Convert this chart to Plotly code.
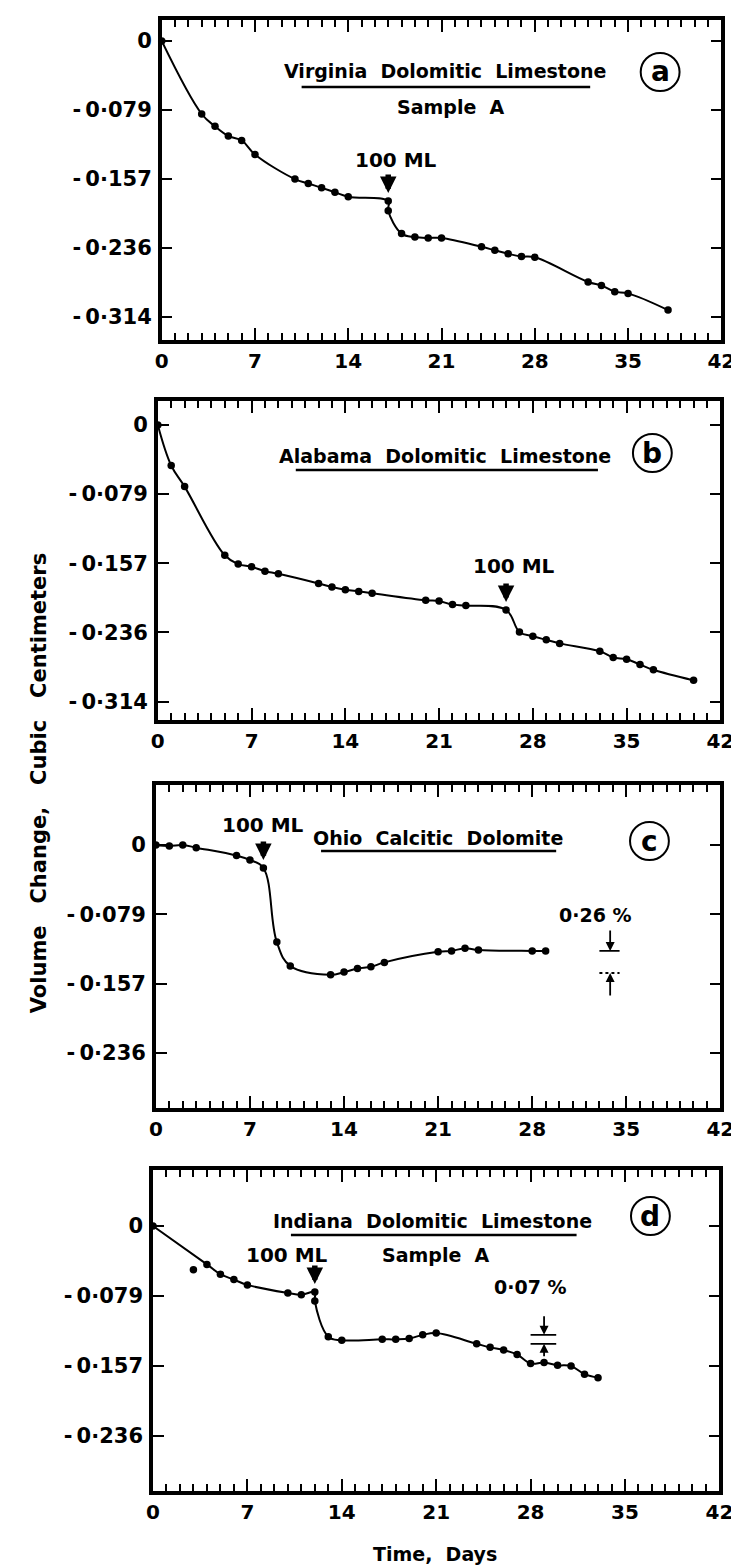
import plotly.graph_objects as go

W, H = 739, 1566

# ---------------- data ----------------
day_ticks = [0, 7, 14, 21, 28, 35, 42]
vol_ticks = [0, -0.0785, -0.157, -0.2355, -0.314]
vol_tick_text = ["0", "-\u20090·079", "-\u20090·157", "-\u20090·236", "-\u20090·314"]

a_days = [0, 3, 4, 5, 6, 7, 10, 11, 12, 13, 14, 17, 17, 18, 19, 20, 21,
          24, 25, 26, 27, 28, 32, 33, 34, 35, 38]
a_vol = [0, -0.083, -0.097, -0.108, -0.113, -0.129, -0.157, -0.162, -0.167,
         -0.172, -0.177, -0.182, -0.193, -0.219, -0.223, -0.224, -0.224,
         -0.234, -0.238, -0.242, -0.245, -0.246, -0.274, -0.278, -0.285,
         -0.287, -0.306]

b_days = [0, 1, 2, 5, 6, 7, 8, 9, 12, 13, 14, 15, 16, 20, 21, 22, 23, 26,
          27, 28, 29, 30, 33, 34, 35, 36, 37, 40]
b_vol = [0, -0.046, -0.070, -0.148, -0.158, -0.161, -0.166, -0.169, -0.180,
         -0.184, -0.187, -0.189, -0.191, -0.199, -0.200, -0.204, -0.205,
         -0.210, -0.235, -0.240, -0.244, -0.248, -0.257, -0.264, -0.266,
         -0.272, -0.278, -0.290]

c_days = [0, 1, 2, 3, 6, 7, 8, 9, 10, 13, 14, 15, 16, 17, 21, 22, 23, 24,
          28, 29]
c_vol = [0, -0.001, 0, -0.003, -0.012, -0.017, -0.026, -0.110, -0.137,
         -0.147, -0.144, -0.140, -0.138, -0.133, -0.121, -0.120, -0.117,
         -0.119, -0.120, -0.120]

d_days = [0, 3, 4, 5, 6, 7, 10, 11, 12, 12, 13, 14, 17, 18, 19, 20, 21, 24,
          25, 26, 27, 28, 29, 30, 31, 32, 33]
d_vol = [0, -0.049, -0.043, -0.054, -0.060, -0.066, -0.075, -0.077, -0.074,
         -0.084, -0.124, -0.128, -0.127, -0.127, -0.126, -0.122, -0.120,
         -0.132, -0.136, -0.139, -0.144, -0.154, -0.153, -0.156, -0.157,
         -0.166, -0.170]
# point on day 3 of panel d lies off the drawn curve
d_on_curve = [True, False] + [True] * (len(d_days) - 2)

titles = ["Virginia  Dolomitic  Limestone", "Alabama  Dolomitic  Limestone",
          "Ohio  Calcitic  Dolomite", "Indiana  Dolomitic  Limestone"]
subtitles = ["Sample  A", None, None, "Sample  A"]
letters = ["a", "b", "c", "d"]
add_day = [17, 26, 8, 12]          # day the 100 ML were added
add_vol = [-0.182, -0.210, -0.026, -0.074]

# ---------------- layout helpers (pixels -> paper) ----------------
def px(x):
    return x / W

def py(y):
    return 1 - y / H

FONT = "DejaVu Sans, sans-serif"
TXT = dict(family=FONT, size=19, color="black", weight="bold")

panels = [
    dict(days=a_days, vol=a_vol, line_days=a_days, line_vol=a_vol,
         xd=(151, 727), yd=(12, 332), yr=(-0.340, 0.0239), nt=5,
         title_xy=(443, 63), ul=(295, 592, 79), sub_xy=(449, 99),
         circ=(664, 64), ml_xy=(392, 152)),
    dict(days=b_days, vol=b_vol, line_days=b_days, line_vol=b_vol,
         xd=(147, 726), yd=(393, 712), yr=(-0.335, 0.0272), nt=5,
         title_xy=(443, 448), ul=(289, 600, 462), sub_xy=None,
         circ=(656, 445), ml_xy=(514, 558)),
    dict(days=c_days, vol=c_vol, line_days=c_days, line_vol=c_vol,
         xd=(145, 726), yd=(777, 1100), yr=(-0.298, 0.068), nt=4,
         title_xy=(435, 830), ul=(315, 557, 843), sub_xy=None,
         circ=(653, 833), ml_xy=(255, 817)),
    dict(days=d_days, vol=d_vol,
         line_days=[d for d, k in zip(d_days, d_on_curve) if k],
         line_vol=[v for v, k in zip(d_vol, d_on_curve) if k],
         xd=(142, 725), yd=(1162, 1483), yr=(-0.297, 0.0628), nt=4,
         title_xy=(430, 1213), ul=(284, 578, 1227), sub_xy=(433, 1247),
         circ=(654, 1208), ml_xy=(280, 1247)),
]

fig = go.Figure()
annotations = []
shapes = []

for i, p in enumerate(panels):
    n = "" if i == 0 else str(i + 1)
    xa, ya = "x" + n, "y" + n
    # drawn curve
    fig.add_trace(go.Scatter(
        x=p["line_days"], y=p["line_vol"], mode="lines",
        line=dict(color="black", width=2, shape="spline", smoothing=1.1),
        xaxis=xa, yaxis=ya, hoverinfo="skip", cliponaxis=False))
    # measured points
    fig.add_trace(go.Scatter(
        x=p["days"], y=p["vol"], mode="markers",
        marker=dict(color="black", size=7.5),
        xaxis=xa, yaxis=ya, cliponaxis=False))

    fig.layout["xaxis" + n] = dict(
        domain=[px(p["xd"][0]), px(p["xd"][1])], anchor=ya,
        range=[0, 42], tickmode="array", tickvals=day_ticks,
        ticktext=[str(t) for t in day_ticks],
        ticks="inside", ticklen=12, tickwidth=2.2, tickcolor="black",
        minor=dict(dtick=1, tick0=0, ticks="inside", ticklen=7,
                   tickwidth=1.8, tickcolor="black", showgrid=False),
        showline=True, linewidth=3.5, linecolor="black", mirror="ticks",
        showgrid=False, zeroline=False, ticklabeloverflow="allow",
        tickfont=dict(family=FONT, size=20, color="black", weight="bold"))
    fig.layout["yaxis" + n] = dict(
        domain=[py(p["yd"][1]), py(p["yd"][0])], anchor=xa,
        range=list(p["yr"]), tickmode="array",
        tickvals=vol_ticks[:p["nt"]], ticktext=vol_tick_text[:p["nt"]],
        ticks="inside", ticklen=11, tickwidth=2.2, tickcolor="black",
        showline=True, linewidth=3.5, linecolor="black", mirror="ticks",
        showgrid=False, zeroline=False, ticklabelstandoff=2,
        tickfont=dict(family=FONT, size=21, color="black", weight="bold"))

    # panel title with underline
    annotations.append(dict(
        text=titles[i], x=px(p["title_xy"][0]), y=py(p["title_xy"][1]),
        xref="paper", yref="paper", showarrow=False,
        xanchor="center", yanchor="middle", font=TXT))
    x0, x1, yu = p["ul"]
    shapes.append(dict(type="line", xref="paper", yref="paper",
                       x0=px(x0), x1=px(x1), y0=py(yu), y1=py(yu),
                       line=dict(color="black", width=2.5)))
    if subtitles[i]:
        annotations.append(dict(
            text=subtitles[i], x=px(p["sub_xy"][0]), y=py(p["sub_xy"][1]),
            xref="paper", yref="paper", showarrow=False,
            xanchor="center", yanchor="middle", font=TXT))
    # circled letter
    cx, cy = p["circ"]
    shapes.append(dict(type="circle", xref="paper", yref="paper",
                       x0=px(cx - 20), x1=px(cx + 20),
                       y0=py(cy + 19), y1=py(cy - 19),
                       line=dict(color="black", width=2)))
    annotations.append(dict(
        text=letters[i], x=px(cx), y=py(cy), xref="paper", yref="paper",
        showarrow=False, xanchor="center", yanchor="middle",
        font=dict(family=FONT, size=28, color="black", weight="bold")))
    # "100 ML" label and arrow
    annotations.append(dict(
        text="100 ML", x=px(p["ml_xy"][0]), y=py(p["ml_xy"][1]),
        xref="paper", yref="paper", showarrow=False,
        xanchor="center", yanchor="middle",
        font=dict(family=FONT, size=20, color="black", weight="bold")))
    annotations.append(dict(
        text="", x=add_day[i], y=add_vol[i], xref=xa, yref=ya,
        showarrow=True, ax=0, ay=-28, arrowhead=2, arrowsize=0.6,
        arrowwidth=5.5, arrowcolor="black", standoff=8))

# percentage markers (panel c)
for yv, dash in [(-0.120, "solid"), (-0.145, "dot")]:
    shapes.append(dict(type="line", xref="x3", yref="y3", x0=33.0, x1=34.5,
                       y0=yv, y1=yv, line=dict(color="black", width=1.8,
                                                dash=dash)))
annotations.append(dict(text="0·26 %", x=px(637), y=py(907), xref="paper",
                        yref="paper", showarrow=False, font=TXT))
annotations.append(dict(text="", x=33.8, y=-0.120, xref="x3", yref="y3",
                        showarrow=True, ax=0, ay=-22, arrowhead=2,
                        arrowsize=1, arrowwidth=1.8, arrowcolor="black"))
annotations.append(dict(text="", x=33.8, y=-0.145, xref="x3", yref="y3",
                        showarrow=True, ax=0, ay=24, arrowhead=2,
                        arrowsize=1, arrowwidth=1.8, arrowcolor="black"))

# percentage markers (panel d)
for yv in [-0.122, -0.132]:
    shapes.append(dict(type="line", xref="x4", yref="y4", x0=28.0, x1=29.9,
                       y0=yv, y1=yv, line=dict(color="black", width=1.8)))
annotations.append(dict(text="0·07 %", x=px(570), y=py(1292), xref="paper",
                        yref="paper", showarrow=False, font=TXT))
annotations.append(dict(text="", x=29.0, y=-0.122, xref="x4", yref="y4",
                        showarrow=True, ax=0, ay=-20, arrowhead=2,
                        arrowsize=1, arrowwidth=1.8, arrowcolor="black"))
annotations.append(dict(text="", x=29.0, y=-0.132, xref="x4", yref="y4",
                        showarrow=True, ax=0, ay=14, arrowhead=2,
                        arrowsize=1, arrowwidth=1.8, arrowcolor="black"))

# axis titles
sp = "\u00a0\u00a0\u00a0"
annotations.append(dict(
    text="Volume" + sp + "Change," + sp + "Cubic" + sp + "Centimeters",
    x=px(25), y=py(775), xref="paper", yref="paper", showarrow=False,
    textangle=-90, xanchor="center", yanchor="middle",
    font=dict(family=FONT, size=21, color="black", weight="bold")))
annotations.append(dict(
    text="Time,\u00a0\u00a0Days", x=px(432), y=py(1546), xref="paper",
    yref="paper", showarrow=False, xanchor="center", yanchor="middle",
    font=TXT))

fig.update_layout(
    width=W, height=H, margin=dict(l=0, r=0, t=0, b=0),
    paper_bgcolor="white", plot_bgcolor="white", showlegend=False,
    annotations=annotations, shapes=shapes)

fig.write_html("out.html")
